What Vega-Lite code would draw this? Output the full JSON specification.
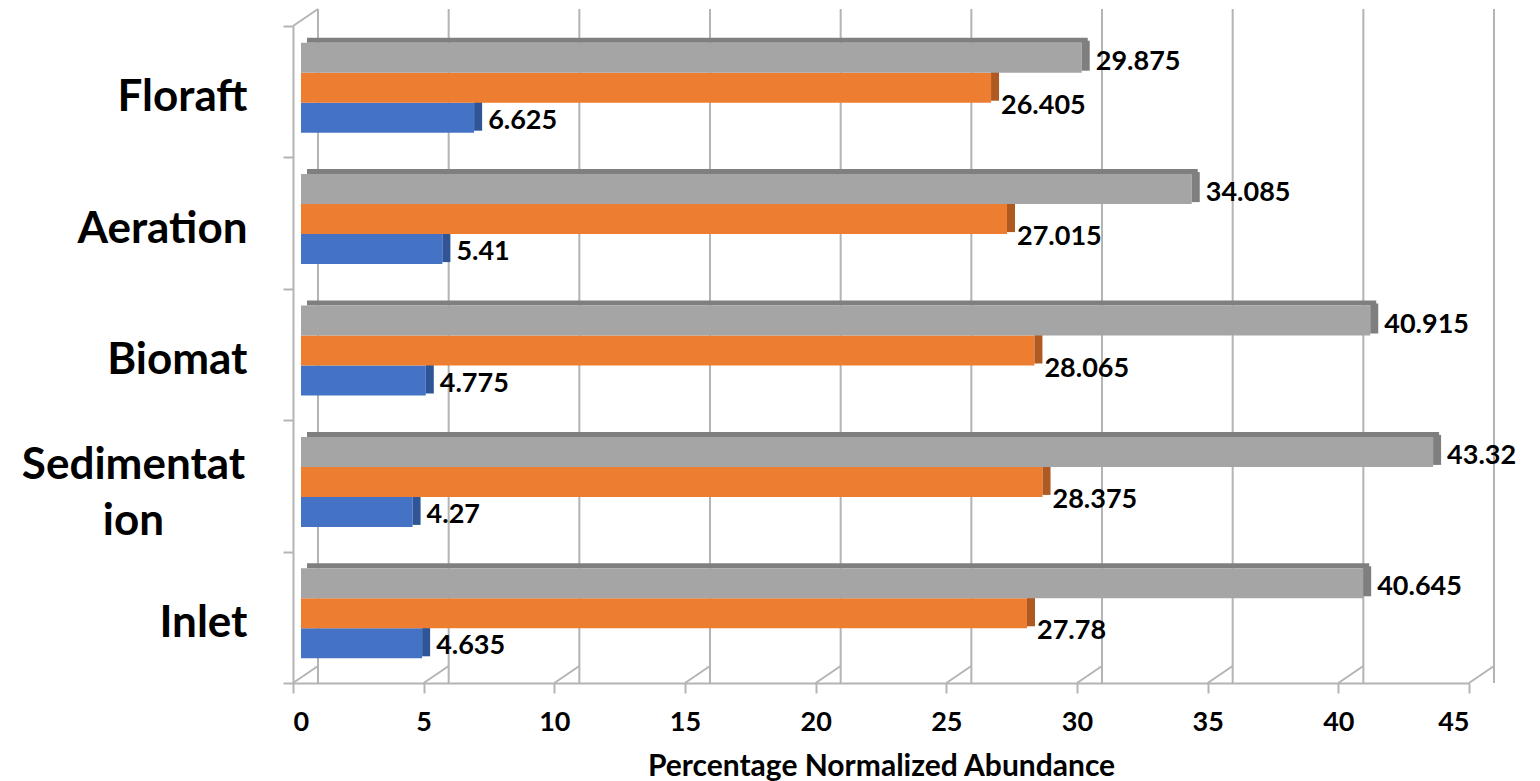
{
  "$schema": "https://vega.github.io/schema/vega-lite/v6.json",
  "width": 1176,
  "height": 657,
  "autosize": {"type": "none"},
  "padding": {"left": 293, "top": 26, "right": 71, "bottom": 98},
  "background": "white",
  "config": {
    "view": {"stroke": null},
    "font": "Lato",
    "axis": {"domainColor": "#B4B4B4", "domainWidth": 2, "tickColor": "#B4B4B4", "tickWidth": 2, "tickSize": 10}
  },
  "datasets": {
    "abundance": [
      {"site": "Floraft", "series": "S1", "value": 6.625},
      {"site": "Floraft", "series": "S2", "value": 26.405},
      {"site": "Floraft", "series": "S3", "value": 29.875},
      {"site": "Aeration", "series": "S1", "value": 5.41},
      {"site": "Aeration", "series": "S2", "value": 27.015},
      {"site": "Aeration", "series": "S3", "value": 34.085},
      {"site": "Biomat", "series": "S1", "value": 4.775},
      {"site": "Biomat", "series": "S2", "value": 28.065},
      {"site": "Biomat", "series": "S3", "value": 40.915},
      {"site": "Sedimentation", "series": "S1", "value": 4.27},
      {"site": "Sedimentation", "series": "S2", "value": 28.375},
      {"site": "Sedimentation", "series": "S3", "value": 43.32},
      {"site": "Inlet", "series": "S1", "value": 4.635},
      {"site": "Inlet", "series": "S2", "value": 27.78},
      {"site": "Inlet", "series": "S3", "value": 40.645}
    ],
    "gridTicks": [
      {"tick": 0}, {"tick": 5}, {"tick": 10}, {"tick": 15}, {"tick": 20},
      {"tick": 25}, {"tick": 30}, {"tick": 35}, {"tick": 40}, {"tick": 45}
    ]
  },
  "resolve": {"scale": {"x": "shared", "y": "shared"}},
  "layer": [
    {
      "data": {"name": "gridTicks"},
      "mark": {"type": "rule", "color": "#B4B4B4", "strokeWidth": 2, "xOffset": 25, "yOffset": -17, "y2Offset": -17},
      "encoding": {
        "x": {
          "field": "tick", "type": "quantitative",
          "scale": {"domain": [0, 45], "nice": false, "zero": true},
          "axis": {
            "values": [0, 5, 10, 15, 20, 25, 30, 35, 40, 45],
            "grid": false,
            "labelFont": "Lato", "labelFontSize": 27, "labelFontWeight": "bold", "labelColor": "#000000",
            "labelPadding": 16,
            "title": "Percentage Normalized Abundance",
            "titleFont": "Lato", "titleFontSize": 30, "titleFontWeight": "bold", "titleColor": "#000000",
            "titlePadding": 16
          }
        }
      }
    },
    {
      "data": {"name": "gridTicks"},
      "mark": {"type": "rule", "color": "#B4B4B4", "strokeWidth": 2, "x2Offset": 25, "y2Offset": -17},
      "encoding": {
        "x": {"field": "tick", "type": "quantitative"},
        "x2": {"field": "tick"},
        "y": {"datum": "Inlet", "type": "nominal", "bandPosition": 1},
        "y2": {"datum": "Inlet", "bandPosition": 1}
      }
    },
    {
      "data": {"name": "gridTicks"},
      "transform": [{"filter": "datum.tick === 0"}],
      "mark": {"type": "rule", "color": "#B4B4B4", "strokeWidth": 2, "x2Offset": 25, "y2Offset": -17},
      "encoding": {
        "x": {"field": "tick", "type": "quantitative"},
        "x2": {"field": "tick"},
        "y": {"datum": "Floraft", "type": "nominal", "bandPosition": 0},
        "y2": {"datum": "Floraft", "bandPosition": 0}
      }
    },
    {
      "data": {"name": "abundance"},
      "layer": [
        {
          "transform": [{"filter": "datum.series === 'S1'"}],
          "layer": [
            {"mark": {"type": "bar", "color": "#4472C4", "height": 30, "yOffset": 26, "xOffset": 8, "x2Offset": 8}},
            {"mark": {"type": "bar", "color": "#2F5597", "height": 30, "yOffset": 24, "xOffset": 8, "x2Offset": 16},
             "encoding": {"x2": {"field": "value"}}},
            {"mark": {"type": "text", "align": "left", "baseline": "middle", "dx": 22, "yOffset": 29, "fontSize": 27, "fontWeight": "bold", "color": "#000000"},
             "encoding": {"text": {"field": "value", "type": "nominal"}}}
          ]
        },
        {
          "transform": [{"filter": "datum.series === 'S2'"}],
          "layer": [
            {"mark": {"type": "bar", "color": "#ED7D31", "height": 30, "yOffset": -4, "xOffset": 8, "x2Offset": 8}},
            {"mark": {"type": "bar", "color": "#AE5A21", "height": 30, "yOffset": -6, "xOffset": 8, "x2Offset": 16},
             "encoding": {"x2": {"field": "value"}}},
            {"mark": {"type": "text", "align": "left", "baseline": "middle", "dx": 18, "yOffset": 14, "fontSize": 27, "fontWeight": "bold", "color": "#000000"},
             "encoding": {"text": {"field": "value", "type": "nominal"}}}
          ]
        },
        {
          "transform": [{"filter": "datum.series === 'S3'"}],
          "layer": [
            {"mark": {"type": "bar", "color": "#7F7F7F", "height": 5, "yOffset": -51.5, "xOffset": 14, "x2Offset": 12}},
            {"mark": {"type": "bar", "color": "#A5A5A5", "height": 30, "yOffset": -34, "xOffset": 8, "x2Offset": 8}},
            {"mark": {"type": "bar", "color": "#7F7F7F", "height": 30, "yOffset": -36, "xOffset": 8, "x2Offset": 16},
             "encoding": {"x2": {"field": "value"}}},
            {"mark": {"type": "text", "align": "left", "baseline": "middle", "dx": 22, "yOffset": -30, "fontSize": 27, "fontWeight": "bold", "color": "#000000"},
             "encoding": {"text": {"field": "value", "type": "nominal"}}}
          ]
        }
      ],
      "encoding": {
        "x": {"field": "value", "type": "quantitative"},
        "y": {
          "field": "site", "type": "nominal",
          "sort": ["Floraft", "Aeration", "Biomat", "Sedimentation", "Inlet"],
          "scale": {"domain": ["Floraft", "Aeration", "Biomat", "Sedimentation", "Inlet"], "paddingInner": 0, "paddingOuter": 0},
          "axis": {
            "title": null,
            "tickBand": "extent",
            "labelFont": "Lato", "labelFontSize": 44, "labelFontWeight": "bold", "labelColor": "#000000",
            "labelLimit": 0,
            "labelLineHeight": 56,
            "labelAlign": {"condition": {"test": "datum.value === 'Sedimentation'", "value": "center"}, "value": "right"},
            "labelPadding": {"condition": {"test": "datum.value === 'Sedimentation'", "value": 150}, "value": 36},
            "labelOffset": {"condition": {"test": "datum.value === 'Sedimentation'", "value": -20}, "value": 6},
            "labelExpr": "datum.value === 'Sedimentation' ? ['Sedimentat', 'ion'] : datum.value"
          }
        }
      }
    }
  ]
}
